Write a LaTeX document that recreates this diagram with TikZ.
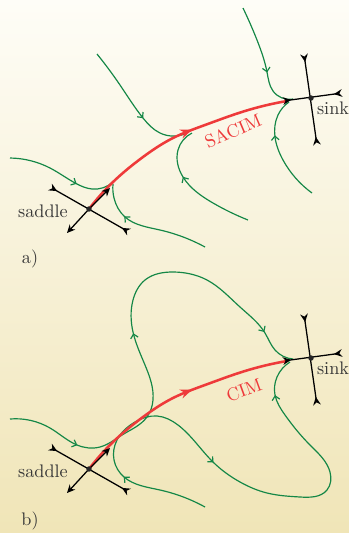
\documentclass[tikz,border=0pt]{standalone}
\usetikzlibrary{arrows.meta,decorations.markings,hobby}
\definecolor{gr}{RGB}{20,135,70}
\definecolor{rd}{RGB}{238,58,58}
\definecolor{bgtop}{RGB}{254,253,247}
\definecolor{bgbot}{RGB}{240,229,183}
\definecolor{txt}{RGB}{55,55,55}
\tikzset{
 flow/.style={gr, line width=0.65pt, use Hobby shortcut, postaction={decorate}},
 cim/.style={rd, line width=1.4pt, use Hobby shortcut, postaction={decorate}},
 bk/.style={black, line width=0.7pt},
 lab/.style={text=txt, font=\fontsize{10}{12}\selectfont, inner sep=0pt},
 rlab/.style={text=rd, font=\fontsize{10}{12}\selectfont, inner sep=0pt},
 dot/.style={circle, fill=black!85, inner sep=0pt, minimum size=3pt},
}
\newcommand\garr{\arrow{Straight Barb[length=2.2pt,width=4.2pt]}}
\newcommand\critpts[1]{%
 \coordinate (#1S) at (89,209);
 \coordinate (#1K) at (311,98);
 \coordinate (#1a1) at (50,187); \coordinate (#1a2) at (129,232);
 \coordinate (#1u1) at (67,233); \coordinate (#1u2) at (110,188);
 \coordinate (#1v1) at (304,54); \coordinate (#1v2) at (317,145);
 \coordinate (#1h1) at (283,101); \coordinate (#1h2) at (342,93);
 \draw[bk,{Stealth[reversed,length=4.5pt,width=4.2pt]}-{Stealth[reversed,length=4.5pt,width=4.2pt]}] (#1a1) -- (#1a2);
 \draw[bk,-{Stealth[length=4.5pt,width=4.2pt]}] (#1S) -- (#1u1);
 \draw[bk,-{Stealth[length=4.5pt,width=4.2pt]}] (#1S) -- (#1u2);
 \draw[bk,{Stealth[reversed,length=4.5pt,width=4.2pt]}-{Stealth[reversed,length=4.5pt,width=4.2pt]}] (#1v1) -- (#1v2);
 \draw[bk,{Stealth[reversed,length=4.5pt,width=4.2pt]}-{Stealth[reversed,length=4.5pt,width=4.2pt]}] (#1h1) -- (#1h2);
 \node[dot] (#1saddle) at (#1S) {};
 \node[dot] (#1sink) at (#1K) {};
 \node[lab] (#1saddlelab) at (43,211) {saddle};
 \node[lab] (#1sinklab) at (333,108) {sink};
}
\begin{document}
\begin{tikzpicture}[x=0.55pt,y=-0.55pt]
\shade[top color=bgtop, bottom color=bgbot] (0,0) rectangle (349,533);
\useasboundingbox (0,0) rectangle (349,533);

% ---------- panel a ----------
\draw[flow, decoration={markings, mark=at position 0.65 with {\garr}}]
 (10,158) .. (50,168) .. (77,184) .. (92,189) .. (113,182);
\draw[flow, decoration={markings, mark=at position 0.61 with {\garr}}]
 (97,54) .. (120,85) .. (143,118) .. (160,133) .. (187,133);
\draw[flow, decoration={markings, mark=at position 0.62 with {\garr}}]
 (243,8) .. (257,40) .. (267,72) .. (273,91) .. (293,99);
\draw[flow, decoration={markings, mark=at position 0.65 with {\garr}}]
 (312,193) .. (283,160) .. (275,137) .. (278,115) .. (289,102);
\draw[flow, decoration={markings, mark=at position 0.61 with {\garr}}]
 (248,220) .. (213,203) .. (183,177) .. (178,150) .. (192,133);
\draw[flow, decoration={markings, mark=at position 0.71 with {\garr}}]
 (205,247) .. (160,230) .. (125,217) .. (114,198) .. (113,184);
\draw[cim, decoration={markings, mark=at position 0.57 with {\arrow{Stealth[length=6.5pt,width=5pt]}}}]
 (89,209) .. (113,182) .. (143,157) .. (173,138) .. (205,125) .. (245,111) .. (287,101);
\node[rlab, rotate=23] (sacim) at (233,131) {SACIM};
\critpts{a}
\node[lab] (alab) at (30,259) {a)};

% ---------- panel b ----------
\begin{scope}[shift={(0,260)}]
\draw[flow, decoration={markings, mark=at position 0.153 with {\garr}, mark=at position 0.50 with {\garr}, mark=at position 0.914 with {\garr}}]
 (10,159) .. (50,168) .. (77,185) .. (100,187) .. (122,175) .. (147,157) .. (153,140) .. (145,105) .. (133,72) .. (133,40) .. (145,20) .. (173,12) .. (207,20) .. (240,47) .. (265,73) .. (275,90) .. (293,99);
\draw[flow, decoration={markings, mark=at position 0.165 with {\garr}, mark=at position 0.475 with {\garr}, mark=at position 0.927 with {\garr}}]
 (205,247) .. (160,230) .. (124,217) .. (114,200) .. (117,180) .. (135,162) .. (157,156) .. (178,165) .. (213,202) .. (240,222) .. (267,233) .. (300,237) .. (327,230) .. (330,212) .. (310,185) .. (285,155) .. (275,135) .. (277,117) .. (290,102);
\draw[cim, decoration={markings, mark=at position 0.57 with {\arrow{Stealth[length=6.5pt,width=5pt]}}}]
 (89,209) .. (113,182) .. (143,157) .. (173,138) .. (205,125) .. (245,111) .. (287,101);
\node[rlab, rotate=20] (cimlab) at (244,130) {CIM};
\critpts{b}
\node[lab] (blab) at (30,261) {b)};
\end{scope}
\end{tikzpicture}
\end{document}
